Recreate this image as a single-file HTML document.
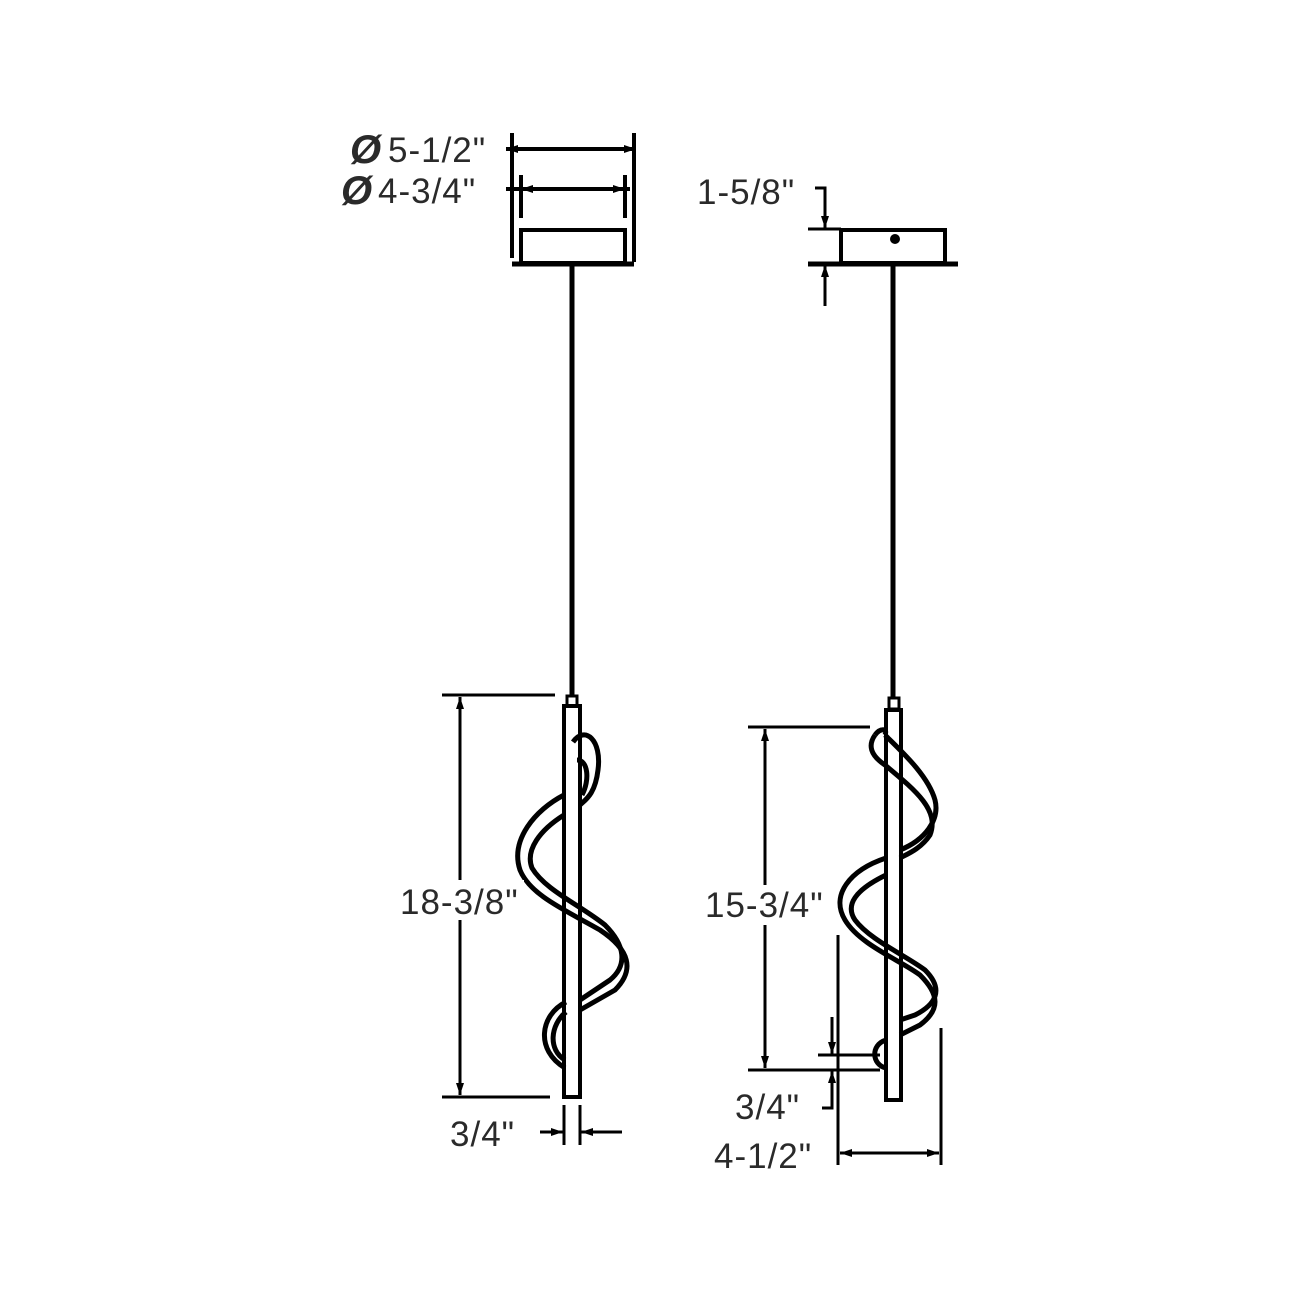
<!DOCTYPE html>
<html><head><meta charset="utf-8"><style>
html,body{margin:0;padding:0;background:#fff;}
svg{display:block}
text{font-family:"Liberation Sans",sans-serif;font-size:35px;letter-spacing:1px;fill:#2a2a2a;}
</style></head><body>
<svg width="1300" height="1300" viewBox="0 0 1300 1300" xmlns="http://www.w3.org/2000/svg">
<defs>
<marker id="a" viewBox="0 0 12 8" refX="12" refY="4" markerWidth="12" markerHeight="8" orient="auto-start-reverse" markerUnits="userSpaceOnUse"><path d="M0,0 L12,4 L0,8 Z" fill="#000"/></marker>
</defs>
<g stroke="#000" fill="none" stroke-linecap="butt">
<line x1="512" y1="133" x2="512" y2="258" stroke-width="4"/>
<line x1="634" y1="133" x2="634" y2="262" stroke-width="4"/>
<line x1="506" y1="149" x2="636" y2="149" stroke-width="4" marker-start="url(#a)" marker-end="url(#a)"/>
<line x1="521" y1="175" x2="521" y2="218" stroke-width="4"/>
<line x1="625" y1="175" x2="625" y2="218" stroke-width="4"/>
<line x1="506" y1="189" x2="630" y2="189" stroke-width="4"/>
<path d="M521,189 l12,-4 v8z M625,189 l-12,-4 v8z" fill="#000" stroke="none"/>
<rect x="521" y="230" width="104" height="33" stroke-width="4"/>
<line x1="512" y1="264" x2="634" y2="264" stroke-width="5"/>
<line x1="572" y1="264" x2="572" y2="696" stroke-width="5"/>
<rect x="567" y="696" width="10" height="10" stroke-width="3"/>
<rect x="564" y="706" width="16" height="391" stroke-width="4"/>
<line x1="442" y1="695" x2="555" y2="695" stroke-width="3"/>
<line x1="442" y1="1097" x2="550" y2="1097" stroke-width="3"/>
<line x1="460" y1="697" x2="460" y2="1095" stroke-width="3" marker-start="url(#a)" marker-end="url(#a)"/>
<line x1="564" y1="1105" x2="564" y2="1145" stroke-width="3"/>
<line x1="580" y1="1105" x2="580" y2="1145" stroke-width="3"/>
<line x1="540" y1="1132" x2="563" y2="1132" stroke-width="3" marker-end="url(#a)"/>
<line x1="622" y1="1132" x2="581" y2="1132" stroke-width="3" marker-end="url(#a)"/>
<g stroke-width="5" stroke-linejoin="round">
<path d="M573,742 C585,725 602,740 598,770 C595,795 585,800 580,805"/>
<path d="M577,760 C588,760 590,780 582,795"/>
<path d="M564,795 C535,810 510,840 520,870 C530,895 565,910 600,930 C630,950 635,970 615,990 L580,1010"/>
<path d="M564,815 C540,830 525,850 532,868 C545,890 580,905 605,925 C625,945 628,965 610,980 L580,1000"/>
<path d="M566,1002 C540,1015 535,1050 565,1068"/>
<path d="M566,1012 C550,1025 548,1050 565,1060"/>
</g>
<rect x="841" y="230" width="104" height="33" stroke-width="4"/>
<line x1="808" y1="264" x2="958" y2="264" stroke-width="5"/>
<line x1="808" y1="229" x2="841" y2="229" stroke-width="3"/>
<circle cx="895" cy="239" r="5" fill="#000" stroke="none"/>
<line x1="893" y1="264" x2="893" y2="698" stroke-width="5"/>
<rect x="889" y="698" width="10" height="11" stroke-width="3"/>
<rect x="886" y="710" width="15" height="390" stroke-width="4"/>
<path d="M815,188 H825 V228" stroke-width="3" marker-end="url(#a)"/>
<line x1="825" y1="306" x2="825" y2="265" stroke-width="3" marker-end="url(#a)"/>
<line x1="748" y1="727" x2="870" y2="727" stroke-width="3"/>
<line x1="748" y1="1070" x2="880" y2="1070" stroke-width="3"/>
<line x1="765" y1="729" x2="765" y2="1068" stroke-width="3" marker-start="url(#a)" marker-end="url(#a)"/>
<line x1="818" y1="1055" x2="880" y2="1055" stroke-width="3"/>
<line x1="832" y1="1017" x2="832" y2="1054" stroke-width="3" marker-end="url(#a)"/>
<path d="M822,1108 H832 V1071" stroke-width="3" marker-end="url(#a)"/>
<line x1="838" y1="935" x2="838" y2="1165" stroke-width="3"/>
<line x1="941" y1="1028" x2="941" y2="1165" stroke-width="3"/>
<line x1="840" y1="1153" x2="939" y2="1153" stroke-width="3" marker-start="url(#a)" marker-end="url(#a)"/>
<g stroke-width="5" stroke-linejoin="round">
<path d="M875,735 C868,745 870,755 885,765 C915,790 940,810 930,835 C920,850 905,855 900,858"/>
<path d="M885,735 C900,750 928,775 935,800 C940,820 925,840 900,850"/>
<path d="M875,735 C880,728 888,728 885,735"/>
<path d="M886,858 C850,870 830,895 845,920 C860,945 900,960 920,975 C940,995 940,1010 920,1025 L900,1035"/>
<path d="M886,875 C855,890 845,905 855,920 C870,940 905,955 925,970 C945,990 935,1005 915,1015 L900,1020"/>
<path d="M886,1040 C870,1045 872,1065 886,1068"/>
</g>
</g>
<g>
<text x="350" y="163" style="font-size:40px;font-weight:bold;font-style:italic">Ø</text>
<text x="388" y="162">5-1/2"</text>
<text x="341" y="204" style="font-size:40px;font-weight:bold;font-style:italic">Ø</text>
<text x="378" y="203">4-3/4"</text>
<text x="697" y="204">1-5/8"</text>
<rect x="398" y="880" width="126" height="40" fill="#fff"/>
<text x="400" y="914">18-3/8"</text>
<rect x="703" y="885" width="124" height="40" fill="#fff"/>
<text x="705" y="917">15-3/4"</text>
<text x="450" y="1146">3/4"</text>
<text x="735" y="1119">3/4"</text>
<text x="714" y="1168">4-1/2"</text>
</g>
</svg>
</body></html>
